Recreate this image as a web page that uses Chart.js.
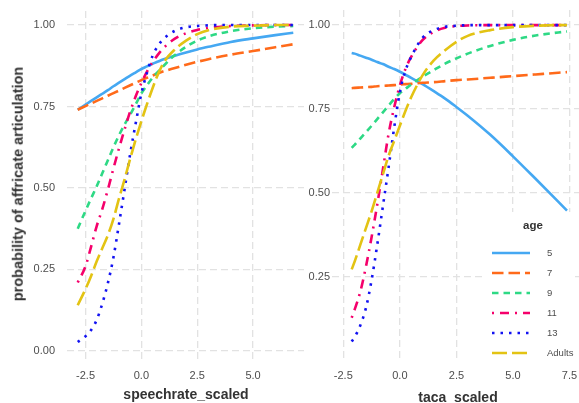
<!DOCTYPE html>
<html>
<head>
<meta charset="utf-8">
<script src="https://cdn.jsdelivr.net/npm/chart.js@4.4.1/dist/chart.umd.min.js"></script>
<style>
  html, body { margin: 0; padding: 0; background: #fff; }
  #wrap { position: relative; width: 579px; height: 403px; overflow: hidden; font-family: "Liberation Sans", Arial, sans-serif; }
  canvas { position: absolute; top: 0; }
  #leftPanel { left: 0; }
  #rightPanel { left: 300px; }
  .axtitle { position: absolute; font-weight: bold; font-size: 14px; line-height: 14px; color: #333; white-space: nowrap; }
  #yTitle { left: 18px; top: 183.5px; font-size: 14.5px; line-height: 14.5px; transform: translate(-50%, -50%) rotate(-90deg); }
  #xTitleLeft { left: 186px; top: 386.5px; transform: translateX(-50%); }
  #xTitleRight { left: 458px; top: 389.7px; transform: translateX(-50%); }
</style>
</head>
<body>
<div id="wrap">
  <canvas id="leftPanel" width="310" height="403" style="width:310px;height:403px"></canvas>
  <canvas id="rightPanel" width="279" height="403" style="width:279px;height:403px"></canvas>
  <div class="axtitle" id="yTitle">probability of affricate articulation</div>
  <div class="axtitle" id="xTitleLeft">speechrate_scaled</div>
  <div class="axtitle" id="xTitleRight">taca_scaled</div>
</div>
<script>
const ageGroups = ['5', '7', '9', '11', '13', 'Adults'];

// left panel: probability vs speechrate_scaled
const speechrateX = [-2.85, -2.5, -2.25, -2, -1.75, -1.5, -1.25, -1, -0.75, -0.5, -0.25, 0, 0.25, 0.5, 0.75, 1, 1.5, 2, 2.5, 3, 4, 5, 6, 6.8];
const speech5 = [0.740, 0.756, 0.767, 0.778, 0.789, 0.800, 0.812, 0.823, 0.834, 0.845, 0.855, 0.865, 0.873, 0.881, 0.888, 0.895, 0.906, 0.916, 0.925, 0.933, 0.948, 0.959, 0.969, 0.976];
const speech7 = [0.740, 0.751, 0.759, 0.767, 0.775, 0.783, 0.791, 0.799, 0.807, 0.815, 0.823, 0.831, 0.838, 0.845, 0.852, 0.858, 0.868, 0.878, 0.887, 0.895, 0.909, 0.920, 0.932, 0.941];
const speech9 = [0.375, 0.430, 0.468, 0.505, 0.545, 0.585, 0.625, 0.662, 0.695, 0.725, 0.757, 0.790, 0.815, 0.838, 0.857, 0.875, 0.908, 0.933, 0.952, 0.965, 0.981, 0.990, 0.995, 0.997];
const speech11 = [0.210, 0.260, 0.320, 0.383, 0.435, 0.495, 0.560, 0.622, 0.680, 0.735, 0.782, 0.822, 0.857, 0.886, 0.910, 0.930, 0.958, 0.975, 0.985, 0.991, 0.997, 0.999, 1.000, 1.000];
const speech13 = [0.027, 0.045, 0.064, 0.095, 0.145, 0.208, 0.287, 0.390, 0.497, 0.605, 0.700, 0.790, 0.853, 0.905, 0.937, 0.958, 0.982, 0.993, 0.997, 0.999, 1.000, 1.000, 1.000, 1.000];
const speechAdults = [0.140, 0.190, 0.230, 0.275, 0.315, 0.355, 0.405, 0.468, 0.527, 0.590, 0.650, 0.705, 0.757, 0.806, 0.850, 0.885, 0.925, 0.952, 0.972, 0.984, 0.995, 0.998, 1.000, 1.000];

// right panel: probability vs taca_scaled
const tacaX = [-2.13, -2, -1.75, -1.5, -1.25, -1, -0.75, -0.5, -0.25, 0, 0.25, 0.5, 1, 1.5, 2, 2.5, 3, 4, 5, 6, 7, 7.39];
const taca5 = [0.917, 0.915, 0.909, 0.903, 0.897, 0.890, 0.884, 0.876, 0.869, 0.861, 0.852, 0.843, 0.824, 0.803, 0.781, 0.756, 0.730, 0.673, 0.609, 0.542, 0.474, 0.447];
const taca7 = [0.812, 0.813, 0.814, 0.815, 0.816, 0.818, 0.819, 0.820, 0.821, 0.823, 0.824, 0.825, 0.828, 0.830, 0.833, 0.836, 0.838, 0.843, 0.848, 0.853, 0.858, 0.860];
const taca9 = [0.634, 0.643, 0.662, 0.681, 0.700, 0.720, 0.740, 0.760, 0.780, 0.797, 0.810, 0.823, 0.846, 0.866, 0.885, 0.901, 0.915, 0.938, 0.956, 0.969, 0.978, 0.981];
const taca11 = [0.128, 0.152, 0.205, 0.280, 0.368, 0.465, 0.570, 0.675, 0.755, 0.820, 0.870, 0.905, 0.955, 0.980, 0.992, 0.997, 0.999, 1.000, 1.000, 1.000, 1.000, 1.000];
const taca13 = [0.057, 0.070, 0.105, 0.157, 0.240, 0.345, 0.460, 0.575, 0.695, 0.800, 0.865, 0.905, 0.962, 0.985, 0.995, 0.998, 1.000, 1.000, 1.000, 1.000, 1.000, 1.000];
const tacaAdults = [0.272, 0.295, 0.345, 0.395, 0.445, 0.500, 0.555, 0.610, 0.655, 0.700, 0.745, 0.785, 0.850, 0.895, 0.925, 0.950, 0.968, 0.985, 0.994, 0.998, 1.000, 1.000];

const speechrateTicks = [-2.5, 0, 2.5, 5];
const tacaTicks = [-2.5, 0, 2.5, 5, 7.5];
const leftProbTicks = [0, 0.25, 0.5, 0.75, 1];
const rightProbTicks = [0.25, 0.5, 0.75, 1];

const lineColours = ['#45a8f2', '#ff6a1a', '#2ed985', '#f5006b', '#1212f2', '#e3c313'];
const lineDashes = [[], [11.5, 5], [6.5, 5], [2, 6, 9, 6], [2.5, 6], [15, 5]];
const gridColour = '#e2e2e2';
const tickColour = '#4d4d4d';
const fontFamily = '"Liberation Sans", Arial, sans-serif';

function makeDatasets(xs, seriesList) {
  return seriesList.map((ys, i) => ({
    label: ageGroups[i],
    data: xs.map((x, k) => ({ x: x, y: ys[k] })),
    borderColor: lineColours[i],
    borderWidth: 2.6,
    borderDash: lineDashes[i],
    borderCapStyle: 'butt',
    pointRadius: 0,
    pointHoverRadius: 0,
    cubicInterpolationMode: 'monotone',
    fill: false,
    order: seriesList.length - i,
  }));
}

function panelScales(xMin, xMax, xTicks, yMin, yMax, yTicks, yWidth, yPadding) {
  return {
    x: {
      type: 'linear',
      min: xMin,
      max: xMax,
      afterBuildTicks: (s) => { s.ticks = xTicks.map(v => ({ value: v })); },
      afterFit: (s) => { s.height = 43; s.paddingLeft = 0; s.paddingRight = 0; },
      grid: { color: gridColour, lineWidth: 1.3, drawTicks: false },
      border: { display: false, dash: [7, 4] },
      ticks: {
        color: tickColour, padding: 9, autoSkip: false, maxRotation: 0,
        font: { size: 11, family: fontFamily },
        callback: (v) => Number(v).toFixed(1),
      },
    },
    y: {
      type: 'linear',
      min: yMin,
      max: yMax,
      afterBuildTicks: (s) => { s.ticks = yTicks.map(v => ({ value: v })); },
      afterFit: (s) => { s.width = yWidth; s.paddingTop = 0; s.paddingBottom = 0; },
      grid: { color: gridColour, lineWidth: 1.3, drawTicks: false },
      border: { display: false, dash: [7, 4] },
      ticks: {
        color: tickColour, padding: yPadding, autoSkip: false,
        font: { size: 11, family: fontFamily },
        callback: (v) => Number(v).toFixed(2),
      },
    },
  };
}

// legend drawn inside the right panel, like ggplot's
const insideLegend = {
  id: 'insideLegend',
  afterDatasetsDraw(chart) {
    const ctx = chart.ctx;
    ctx.save();
    ctx.fillStyle = '#ffffff';
    ctx.fillRect(186, 212, 89, 149);
    ctx.fillStyle = '#333';
    ctx.font = 'bold 11.5px ' + fontFamily;
    ctx.textBaseline = 'middle';
    ctx.fillText('age', 223, 226);
    ctx.font = '9.5px ' + fontFamily;
    ageGroups.forEach((g, i) => {
      const y = 253 + i * 20;
      ctx.beginPath();
      ctx.strokeStyle = lineColours[i];
      ctx.lineWidth = 2.6;
      ctx.lineCap = 'butt';
      ctx.setLineDash(lineDashes[i]);
      ctx.moveTo(192, y);
      ctx.lineTo(230, y);
      ctx.stroke();
      ctx.setLineDash([]);
      ctx.fillStyle = tickColour;
      ctx.fillText(g, 247, y);
    });
    ctx.restore();
  }
};

const commonOptions = {
  responsive: false,
  animation: false,
  plugins: { legend: { display: false }, tooltip: { enabled: false } },
  events: [],
};

new Chart(document.getElementById('leftPanel'), {
  type: 'line',
  data: { datasets: makeDatasets(speechrateX, [speech5, speech7, speech9, speech11, speech13, speechAdults]) },
  options: Object.assign({}, commonOptions, {
    layout: { padding: { top: 11, right: 6, left: 0, bottom: 0 } },
    scales: panelScales(-3.33, 7.28, speechrateTicks, -0.028, 1.043, leftProbTicks, 67, 12),
  }),
});

new Chart(document.getElementById('rightPanel'), {
  type: 'line',
  data: { datasets: makeDatasets(tacaX, [taca5, taca7, taca9, taca11, taca13, tacaAdults]) },
  options: Object.assign({}, commonOptions, {
    layout: { padding: { top: 10, right: 0, left: 0, bottom: 0 } },
    scales: panelScales(-3.0, 7.92, tacaTicks, 0.002, 1.045, rightProbTicks, 32, 2),
  }),
  plugins: [insideLegend],
});
</script>
</body>
</html>
